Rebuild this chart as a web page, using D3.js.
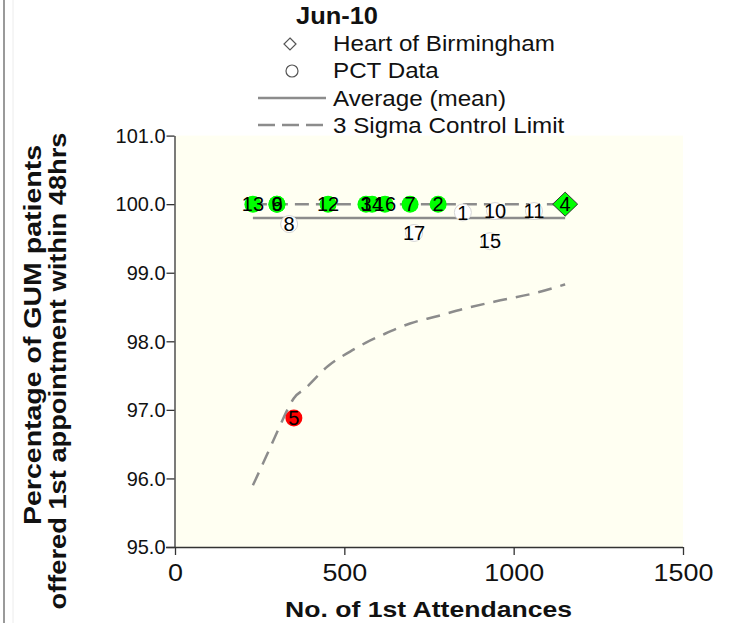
<!DOCTYPE html>
<html>
<head>
<meta charset="utf-8">
<script src="https://cdn.jsdelivr.net/npm/d3@7"></script>
<style>
  html, body { margin: 0; padding: 0; background: #ffffff; }
  svg { display: block; font-family: "Liberation Sans", Arial, sans-serif; }
</style>
</head>
<body>
<svg id="chart" width="729" height="623"></svg>
<script>
// ---------------- data ----------------
const chartTitle = "Jun-10";
const xTicks = [0, 500, 1000, 1500];
const yTicks = [95, 96, 97, 98, 99, 100, 101];

// PCT data points (id, number of 1st attendances, % offered within 48hrs)
const pctIds         = [6, 9, 13, 8, 12, 3, 14, 16, 7, 2, 1, 10, 11, 17, 15, 5];
const pctAttendances = [301, 301, 230, 337, 452, 564, 582, 620, 694, 777, 850, 945, 1060, 706, 930, 351];
const pctPercent     = [100, 100, 100, 99.71, 100, 100, 100, 100, 100, 100, 99.88, 99.90, 99.90, 99.58, 99.46, 96.88];

// Heart of Birmingham
const hobId = 4;
const hobAttendances = 1152;
const hobPercent = 100;

// Average (mean)
const meanX = [230, 1152];
const meanY = [99.80, 99.80];

// 3 sigma control limits
const upperLimitX = [230, 1152];
const upperLimitY = [100, 100];
const lowerLimitX = [230, 260, 301, 337, 351, 384, 452, 517, 564, 620, 694, 777, 850, 945, 1060, 1152];
const lowerLimitY = [95.90, 96.22, 96.67, 97.05, 97.17, 97.31, 97.64, 97.85, 97.98, 98.11, 98.26, 98.37, 98.47, 98.58, 98.70, 98.83];

const legendLabels = ["Heart of Birmingham", "PCT Data", "Average (mean)", "3 Sigma Control Limit"];

// ---------------- drawing ----------------
const svg = d3.select("#chart");
const FONT = '"Liberation Sans", Arial, sans-serif';

function stretch(sel, factor) {
  sel.each(function () {
    const len = this.getComputedTextLength();
    d3.select(this).attr("textLength", len * factor).attr("lengthAdjust", "spacingAndGlyphs");
  });
}

const plot = { left: 175, right: 683, top: 135.6, bottom: 547 };
const x = d3.scaleLinear().domain([0, 1500]).range([plot.left, plot.right]);
const y = d3.scaleLinear().domain([95, 101]).range([plot.bottom, plot.top]);

// page border lines on the left
svg.append("line").attr("x1", 4).attr("x2", 4).attr("y1", 0).attr("y2", 623)
  .attr("stroke", "#9a9a9a").attr("stroke-width", 2);
svg.append("line").attr("x1", 13).attr("x2", 13).attr("y1", 0).attr("y2", 623)
  .attr("stroke", "#ececec").attr("stroke-width", 1);

// plot background
svg.append("rect")
  .attr("x", plot.left).attr("y", plot.top)
  .attr("width", plot.right - plot.left).attr("height", plot.bottom - plot.top)
  .attr("fill", "#fffff2");

// axes
const yAxis = d3.axisLeft(y).tickValues(yTicks).tickFormat(d3.format(".1f"))
  .tickSize(8).tickSizeOuter(0).tickPadding(1);
const gy = svg.append("g").attr("transform", `translate(${plot.left - 0.5},0)`).call(yAxis);
gy.selectAll("text").attr("font-size", 21).attr("font-family", FONT).attr("fill", "#111");
gy.selectAll("line, path").attr("stroke", "#333").attr("stroke-width", 1.3);
stretch(gy.selectAll("text"), 0.95);

const xAxis = d3.axisBottom(x).tickValues(xTicks).tickFormat(d3.format("d"))
  .tickSize(8).tickSizeOuter(0).tickPadding(10);
const gx = svg.append("g").attr("transform", `translate(0,${plot.bottom})`).call(xAxis);
gx.selectAll("text").attr("font-size", 23).attr("font-family", FONT).attr("fill", "#111");
gx.selectAll("line, path").attr("stroke", "#333").attr("stroke-width", 1.3);
gx.select("path.domain").attr("d", `M${plot.left - 9},0.5H${plot.right}`);
stretch(gx.selectAll("text"), 1.17);

// axis titles
svg.append("text")
  .attr("x", 428.5).attr("y", 617)
  .attr("text-anchor", "middle").attr("font-size", 22).attr("font-weight", "bold")
  .attr("fill", "#111").attr("textLength", 287).attr("lengthAdjust", "spacingAndGlyphs")
  .text("No. of 1st Attendances");

svg.append("text")
  .attr("transform", "translate(41,335) rotate(-90)")
  .attr("text-anchor", "middle").attr("font-size", 23).attr("font-weight", "bold").attr("fill", "#111")
  .attr("textLength", 380).attr("lengthAdjust", "spacingAndGlyphs")
  .text("Percentage of GUM patients");
svg.append("text")
  .attr("transform", "translate(66,371) rotate(-90)")
  .attr("text-anchor", "middle").attr("font-size", 23).attr("font-weight", "bold").attr("fill", "#111")
  .attr("textLength", 477).attr("lengthAdjust", "spacingAndGlyphs")
  .text("offered 1st appointment within 48hrs");

// lines
const line = d3.line().x(d => x(d[0])).y(d => y(d[1]));
const lineSmooth = d3.line().x(d => x(d[0])).y(d => y(d[1])).curve(d3.curveMonotoneX);

svg.append("path").datum(meanX.map((v, i) => [v, meanY[i]]))
  .attr("d", line).attr("fill", "none").attr("stroke", "#8c8c8c").attr("stroke-width", 2.5);
svg.append("path").datum(upperLimitX.map((v, i) => [v, upperLimitY[i]]))
  .attr("d", line).attr("fill", "none").attr("stroke", "#8c8c8c").attr("stroke-width", 2.5)
  .attr("stroke-dasharray", "14,7");
svg.append("path").datum(lowerLimitX.map((v, i) => [v, lowerLimitY[i]]))
  .attr("d", lineSmooth).attr("fill", "none").attr("stroke", "#8c8c8c").attr("stroke-width", 2.5)
  .attr("stroke-dasharray", "14,9");

// PCT points
function lowerAt(n) {
  const i = d3.bisectLeft(lowerLimitX, n);
  if (i <= 0) return lowerLimitY[0];
  if (i >= lowerLimitX.length) return lowerLimitY[lowerLimitY.length - 1];
  const t = (n - lowerLimitX[i - 1]) / (lowerLimitX[i] - lowerLimitX[i - 1]);
  return lowerLimitY[i - 1] + t * (lowerLimitY[i] - lowerLimitY[i - 1]);
}
const pts = pctIds.map((id, i) => ({ id, n: pctAttendances[i], p: pctPercent[i] }));
function colourOf(d) {
  if (d.p >= upperLimitY[0]) return "#00ff00";
  if (d.p < lowerAt(d.n)) return "#ff0000";
  return "#ffffff";
}
const gp = svg.append("g");
gp.selectAll("circle").data(pts).join("circle")
  .attr("cx", d => x(d.n)).attr("cy", d => y(d.p)).attr("r", 8.5)
  .attr("fill", d => colourOf(d))
  .attr("stroke", d => colourOf(d) === "#ffffff" ? "#d6d6d6" : "none").attr("stroke-width", 1);

// Heart of Birmingham diamond
svg.append("path")
  .attr("transform", `translate(${x(hobAttendances)},${y(hobPercent)})`)
  .attr("d", "M0,-12L12.5,0L0,12L-12.5,0Z")
  .attr("fill", "#00ff00").attr("stroke", "#333").attr("stroke-width", 1);

// labels
const gl = svg.append("g").attr("font-size", 20).attr("fill", "#000").attr("text-anchor", "middle");
gl.selectAll("text").data(pts).join("text")
  .attr("x", d => x(d.n)).attr("y", d => y(d.p)).attr("dy", "0.36em").text(d => d.id);
gl.append("text").attr("x", x(hobAttendances)).attr("y", y(hobPercent)).attr("dy", "0.36em").text(hobId);

// legend
const lg = svg.append("g");
lg.append("text").attr("x", 296).attr("y", 24).attr("font-size", 23).attr("font-weight", "bold")
  .attr("fill", "#111").attr("textLength", 82).attr("lengthAdjust", "spacingAndGlyphs").text(chartTitle);
lg.append("path").attr("transform", "translate(290,44)").attr("d", "M0,-6L6,0L0,6L-6,0Z")
  .attr("fill", "#fff").attr("stroke", "#555").attr("stroke-width", 1.2);
lg.append("circle").attr("cx", 292).attr("cy", 71).attr("r", 6)
  .attr("fill", "#fff").attr("stroke", "#555").attr("stroke-width", 1.2);
lg.append("line").attr("x1", 258).attr("x2", 326).attr("y1", 98).attr("y2", 98)
  .attr("stroke", "#8c8c8c").attr("stroke-width", 2.5);
lg.append("line").attr("x1", 258).attr("x2", 326).attr("y1", 125).attr("y2", 125)
  .attr("stroke", "#8c8c8c").attr("stroke-width", 2.5).attr("stroke-dasharray", "17,7");
const legendY = [51, 78, 106, 133];
const legendTexts = lg.selectAll("text.leg").data(legendLabels).join("text")
  .attr("class", "leg").attr("x", 333).attr("y", (d, i) => legendY[i]).attr("font-size", 22)
  .attr("fill", "#111").text(d => d);
stretch(legendTexts, 1.1);
</script>
</body>
</html>
